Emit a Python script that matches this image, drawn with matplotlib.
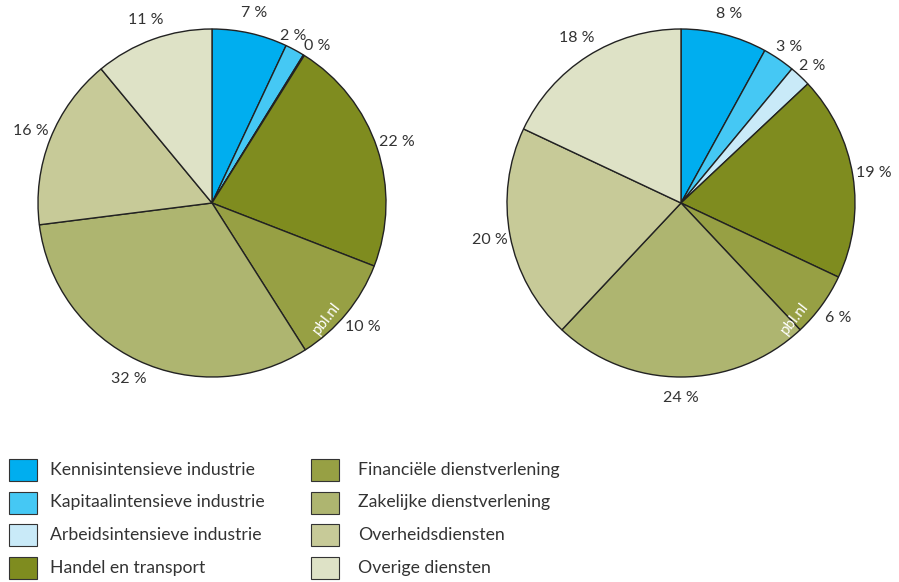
import matplotlib
matplotlib.use("Agg")
import numpy as np
import matplotlib.pyplot as plt
from matplotlib.patches import Rectangle

categories = [
    "Kennisintensieve industrie",
    "Kapitaalintensieve industrie",
    "Arbeidsintensieve industrie",
    "Handel en transport",
    "Financiële dienstverlening",
    "Zakelijke dienstverlening",
    "Overheidsdiensten",
    "Overige diensten",
]
colors = ["#00AEEF", "#45C8F4", "#C9EAF8", "#7F8C1F",
          "#97A044", "#AEB570", "#C7CA98", "#DEE2C6"]

left_values = [7, 1.8, 0.1, 22, 10.1, 32, 16, 11]
left_labels = ["7 %", "2 %", "0 %", "22 %", "10 %", "32 %", "16 %", "11 %"]
right_values = [8, 3, 2, 19, 6, 24, 20, 18]
right_labels = ["8 %", "3 %", "2 %", "19 %", "6 %", "24 %", "20 %", "18 %"]

plt.rcParams['font.family'] = ['Lato', 'DejaVu Sans']
W, H = 899, 582
fig = plt.figure(figsize=(W / 100, H / 100), dpi=100)

R = 174


def pie_axes(cx, cy):
    return fig.add_axes([(cx - R) / W, 1 - (cy + R) / H, 2 * R / W, 2 * R / H])


# small label adjustments: index -> (angle offset deg (clockwise), distance)
left_adj = {1: (-2.5, 1.07), 2: (2.0, 1.09)}
right_adj = {1: (0.5, 1.09), 2: (0.5, 1.09)}

for cx, cy, vals, labs, wm, adj in [
        (212, 203, left_values, left_labels, (0.66, -0.66), left_adj),
        (681, 203, right_values, right_labels, (0.655, -0.66), right_adj)]:
    ax = pie_axes(cx, cy)
    wedges, texts = ax.pie(vals, labels=labs, colors=colors, startangle=90,
                           counterclock=False, radius=1, labeldistance=1.12,
                           wedgeprops=dict(edgecolor="#222222", linewidth=1.0),
                           textprops=dict(fontsize=11.5, color="#333333"))
    for i, (w, t) in enumerate(zip(wedges, texts)):
        t.set_horizontalalignment("center")
        t.set_verticalalignment("center")
        if i in adj:
            d_ang, dist = adj[i]
            mid = np.deg2rad((w.theta1 + w.theta2) / 2 - d_ang)
            t.set_position((dist * np.cos(mid), dist * np.sin(mid)))
    ax.text(wm[0], wm[1], "pbl.nl", rotation=52, color="white", fontsize=11,
            ha="center", va="center")
    ax.set_xlim(-1, 1)
    ax.set_ylim(-1, 1)
    ax.axis("off")

# Legend
rows_y = [470, 502.5, 535, 567.5]
col_box_x = [9, 311]
col_text_x = [50, 358]
box_w, box_h = 28, 22
for i, (cat, col) in enumerate(zip(categories, colors)):
    c = i // 4
    r = i % 4
    y = rows_y[r]
    fig.add_artist(Rectangle((col_box_x[c] / W, 1 - (y + box_h / 2) / H),
                             box_w / W, box_h / H, transform=fig.transFigure,
                             facecolor=col, edgecolor="#333333", linewidth=0.8))
    fig.text(col_text_x[c] / W, 1 - y / H, cat, fontsize=12.7, color="#333333",
             ha="left", va="center")

fig.savefig("out.png", dpi=100)
